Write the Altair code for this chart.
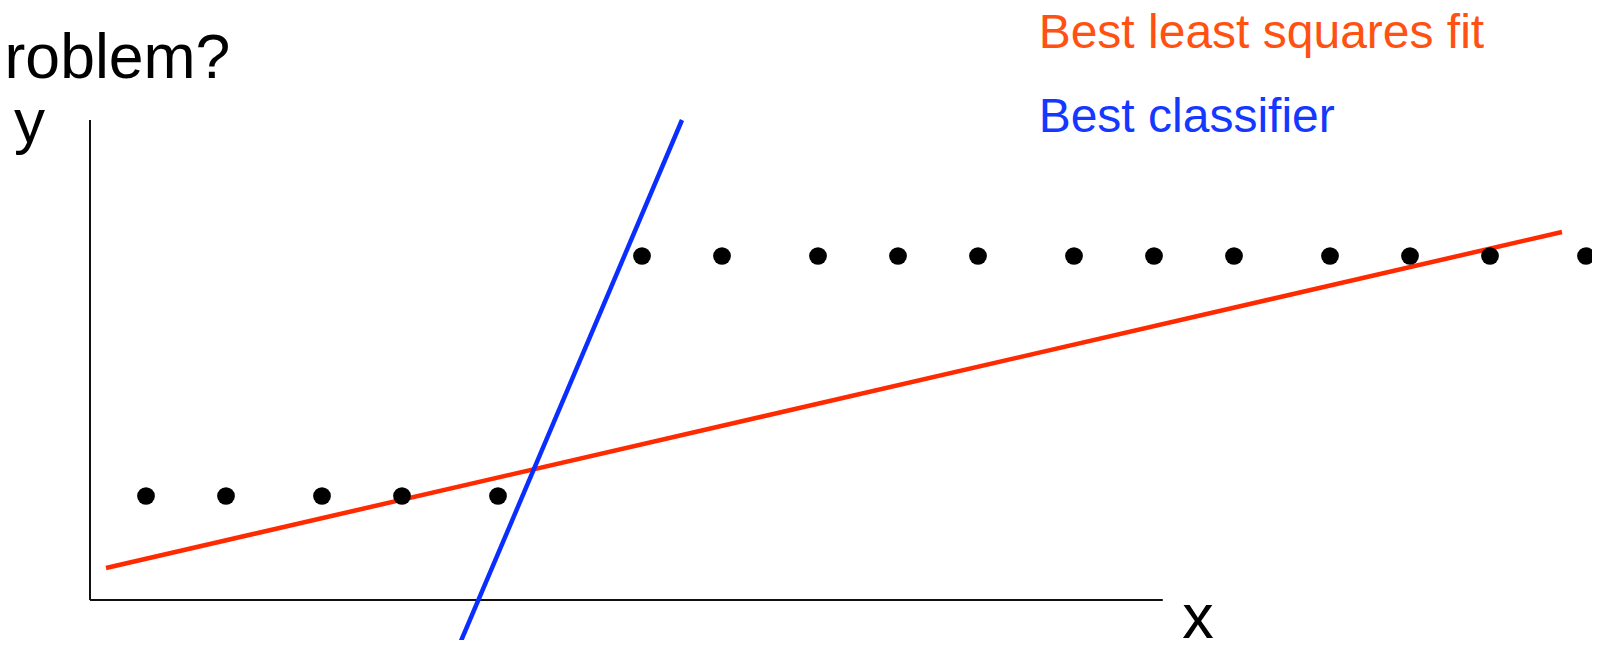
import altair as alt
import pandas as pd

# Data (units: one unit = spacing grid of the drawing; origin at the axes corner)
low_x = [3.5, 8.5, 14.5, 19.5, 25.5]
low_y = [6.5, 6.5, 6.5, 6.5, 6.5]
high_x = [34.5, 39.5, 45.5, 50.5, 55.5, 61.5, 66.5, 71.5, 77.5, 82.5, 87.5, 93.5]
high_y = [21.5] * 12

lsq_x = [1.0, 92.0]
lsq_y = [2.0, 23.0]
clf_x = [23.0, 37.0]
clf_y = [-3.0, 30.0]

axis_x = [0, 0]
axis_y = [0, 0]
axis_x2 = [0, 67.05]
axis_y2 = [30, 0]

labels = ["roblem?", "y", "x", "Best least squares fit", "Best classifier"]
label_x = [-5.34, -4.75, 68.26, 59.29, 59.29]
label_y = [32.625, 28.625, -2.375, 34.5, 29.25]
label_size = [62.5, 62, 63, 48, 48]
label_color = ["#000000", "#000000", "#000000", "#FF5112", "#1438FF"]

xs = alt.Scale(domain=[-5.125, 93.875], nice=False, zero=False)
ys = alt.Scale(domain=[-2.5, 37.0], nice=False, zero=False)

pts = pd.DataFrame({"x": low_x + high_x, "y": low_y + high_y})
axes_df = pd.DataFrame({"x": axis_x, "y": axis_y, "x2": axis_x2, "y2": axis_y2})
lines_df = pd.DataFrame({
    "x": [lsq_x[0], clf_x[0]], "y": [lsq_y[0], clf_y[0]],
    "x2": [lsq_x[1], clf_x[1]], "y2": [lsq_y[1], clf_y[1]],
    "c": ["#FF2A00", "#0A2EFF"],
})
text_df = pd.DataFrame({"t": labels, "x": label_x, "y": label_y,
                        "s": label_size, "c": label_color})

X = lambda f: alt.X(f, type="quantitative", scale=xs, axis=None)
Y = lambda f: alt.Y(f, type="quantitative", scale=ys, axis=None)

axes_layer = alt.Chart(axes_df).mark_rule(color="#111111", strokeWidth=2).encode(
    x=X("x"), y=Y("y"), x2="x2", y2="y2")

lines_layer = alt.Chart(lines_df).mark_rule(strokeWidth=4.5).encode(
    x=X("x"), y=Y("y"), x2="x2", y2="y2",
    color=alt.Color("c:N", scale=None))

pts_layer = alt.Chart(pts).mark_circle(size=315, color="black", opacity=1).encode(
    x=X("x"), y=Y("y"))

text_layer = alt.Chart(text_df).mark_text(
    align="left", baseline="alphabetic", font="Liberation Sans").encode(
    x=X("x"), y=Y("y"), text="t:N",
    color=alt.Color("c:N", scale=None),
    size=alt.Size("s:Q", scale=None))

chart = alt.layer(axes_layer, lines_layer, pts_layer, text_layer).properties(
    width=1584, height=632,
    autosize=alt.AutoSizeParams(type="none"),
    padding=0,
).configure_view(stroke=None)

chart.save("out.html", embed_options={"renderer": "svg", "actions": False})
